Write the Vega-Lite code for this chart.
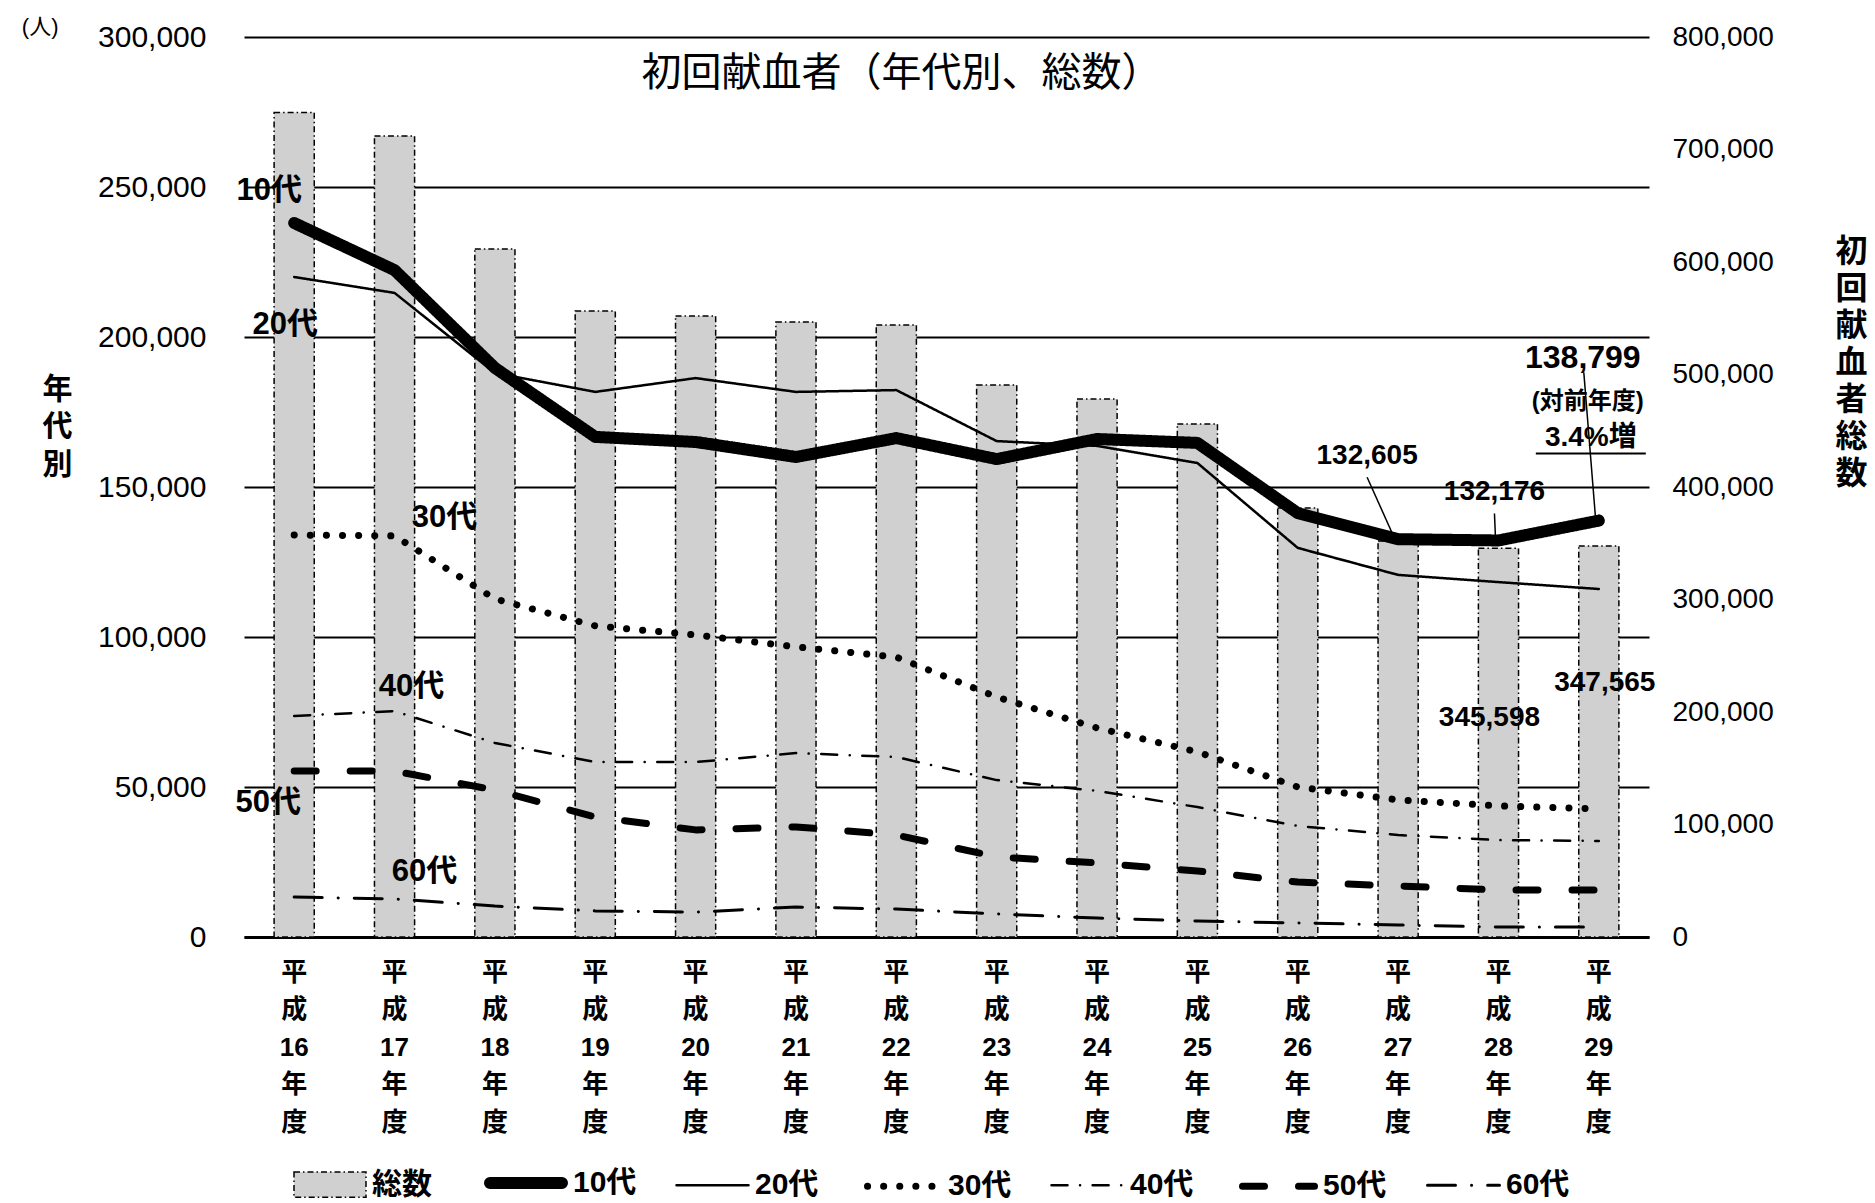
{
  "$schema": "https://vega.github.io/schema/vega-lite/v6.json",
  "width": 1405,
  "height": 900,
  "autosize": {"type": "none"},
  "padding": {"left": 244, "top": 37, "right": 226, "bottom": 266},
  "background": "white",
  "title": {
    "text": "初回献血者（年代別、総数）",
    "fontSize": 40,
    "fontWeight": "normal",
    "font": "Noto Sans CJK JP",
    "color": "black",
    "anchor": "middle",
    "frame": "group",
    "baseline": "middle",
    "offset": 0,
    "dx": -45,
    "dy": 98
  },
  "config": {
    "view": {"stroke": null},
    "font": "Liberation Sans, Noto Sans CJK JP",
    "text": {"color": "black"}
  },
  "datasets": {
    "totals": [
      {"year": "平成16年度", "total": 733000},
      {"year": "平成17年度", "total": 712000},
      {"year": "平成18年度", "total": 611600},
      {"year": "平成19年度", "total": 556400},
      {"year": "平成20年度", "total": 552000},
      {"year": "平成21年度", "total": 546700},
      {"year": "平成22年度", "total": 544000},
      {"year": "平成23年度", "total": 490700},
      {"year": "平成24年度", "total": 478200},
      {"year": "平成25年度", "total": 456000},
      {"year": "平成26年度", "total": 381300},
      {"year": "平成27年度", "total": 352000},
      {"year": "平成28年度", "total": 345598},
      {"year": "平成29年度", "total": 347565}
    ],
    "lines": [
      {"year": "平成16年度", "series": "10代", "value": 238000},
      {"year": "平成17年度", "series": "10代", "value": 222300},
      {"year": "平成18年度", "series": "10代", "value": 189700},
      {"year": "平成19年度", "series": "10代", "value": 166700},
      {"year": "平成20年度", "series": "10代", "value": 165000},
      {"year": "平成21年度", "series": "10代", "value": 160000},
      {"year": "平成22年度", "series": "10代", "value": 166300},
      {"year": "平成23年度", "series": "10代", "value": 159300},
      {"year": "平成24年度", "series": "10代", "value": 166000},
      {"year": "平成25年度", "series": "10代", "value": 164700},
      {"year": "平成26年度", "series": "10代", "value": 141300},
      {"year": "平成27年度", "series": "10代", "value": 132605},
      {"year": "平成28年度", "series": "10代", "value": 132176},
      {"year": "平成29年度", "series": "10代", "value": 138799},
      {"year": "平成16年度", "series": "20代", "value": 220000},
      {"year": "平成17年度", "series": "20代", "value": 214700},
      {"year": "平成18年度", "series": "20代", "value": 188000},
      {"year": "平成19年度", "series": "20代", "value": 181700},
      {"year": "平成20年度", "series": "20代", "value": 186300},
      {"year": "平成21年度", "series": "20代", "value": 181700},
      {"year": "平成22年度", "series": "20代", "value": 182300},
      {"year": "平成23年度", "series": "20代", "value": 165300},
      {"year": "平成24年度", "series": "20代", "value": 163700},
      {"year": "平成25年度", "series": "20代", "value": 158000},
      {"year": "平成26年度", "series": "20代", "value": 129700},
      {"year": "平成27年度", "series": "20代", "value": 120700},
      {"year": "平成28年度", "series": "20代", "value": 118300},
      {"year": "平成29年度", "series": "20代", "value": 116000},
      {"year": "平成16年度", "series": "30代", "value": 134000},
      {"year": "平成17年度", "series": "30代", "value": 133700},
      {"year": "平成18年度", "series": "30代", "value": 112700},
      {"year": "平成19年度", "series": "30代", "value": 103700},
      {"year": "平成20年度", "series": "30代", "value": 100700},
      {"year": "平成21年度", "series": "30代", "value": 96700},
      {"year": "平成22年度", "series": "30代", "value": 93300},
      {"year": "平成23年度", "series": "30代", "value": 80000},
      {"year": "平成24年度", "series": "30代", "value": 69700},
      {"year": "平成25年度", "series": "30代", "value": 61700},
      {"year": "平成26年度", "series": "30代", "value": 50000},
      {"year": "平成27年度", "series": "30代", "value": 45700},
      {"year": "平成28年度", "series": "30代", "value": 43700},
      {"year": "平成29年度", "series": "30代", "value": 42700},
      {"year": "平成16年度", "series": "40代", "value": 73700},
      {"year": "平成17年度", "series": "40代", "value": 75300},
      {"year": "平成18年度", "series": "40代", "value": 64700},
      {"year": "平成19年度", "series": "40代", "value": 58300},
      {"year": "平成20年度", "series": "40代", "value": 58300},
      {"year": "平成21年度", "series": "40代", "value": 61300},
      {"year": "平成22年度", "series": "40代", "value": 60000},
      {"year": "平成23年度", "series": "40代", "value": 52300},
      {"year": "平成24年度", "series": "40代", "value": 48700},
      {"year": "平成25年度", "series": "40代", "value": 43300},
      {"year": "平成26年度", "series": "40代", "value": 37000},
      {"year": "平成27年度", "series": "40代", "value": 34000},
      {"year": "平成28年度", "series": "40代", "value": 32300},
      {"year": "平成29年度", "series": "40代", "value": 32000},
      {"year": "平成16年度", "series": "50代", "value": 55300},
      {"year": "平成17年度", "series": "50代", "value": 55300},
      {"year": "平成18年度", "series": "50代", "value": 49000},
      {"year": "平成19年度", "series": "50代", "value": 40000},
      {"year": "平成20年度", "series": "50代", "value": 35700},
      {"year": "平成21年度", "series": "50代", "value": 36700},
      {"year": "平成22年度", "series": "50代", "value": 34000},
      {"year": "平成23年度", "series": "50代", "value": 26700},
      {"year": "平成24年度", "series": "50代", "value": 24700},
      {"year": "平成25年度", "series": "50代", "value": 22000},
      {"year": "平成26年度", "series": "50代", "value": 18300},
      {"year": "平成27年度", "series": "50代", "value": 17000},
      {"year": "平成28年度", "series": "50代", "value": 15700},
      {"year": "平成29年度", "series": "50代", "value": 15700},
      {"year": "平成16年度", "series": "60代", "value": 13300},
      {"year": "平成17年度", "series": "60代", "value": 12700},
      {"year": "平成18年度", "series": "60代", "value": 10300},
      {"year": "平成19年度", "series": "60代", "value": 8700},
      {"year": "平成20年度", "series": "60代", "value": 8300},
      {"year": "平成21年度", "series": "60代", "value": 10000},
      {"year": "平成22年度", "series": "60代", "value": 9300},
      {"year": "平成23年度", "series": "60代", "value": 7700},
      {"year": "平成24年度", "series": "60代", "value": 6300},
      {"year": "平成25年度", "series": "60代", "value": 5300},
      {"year": "平成26年度", "series": "60代", "value": 4700},
      {"year": "平成27年度", "series": "60代", "value": 4000},
      {"year": "平成28年度", "series": "60代", "value": 3300},
      {"year": "平成29年度", "series": "60代", "value": 3300}
    ]
  },
  "resolve": {"scale": {"y": "independent"}},
  "layer": [
    {
      "data": {"name": "totals"},
      "layer": [
        {
          "mark": {"type": "bar", "fill": "#d0d0d0", "stroke": "black", "strokeWidth": 1.5, "strokeDash": [6, 3, 1.5, 3]},
          "encoding": {
            "x": {
              "field": "year", "type": "nominal", "sort": null,
              "scale": {"paddingInner": 0.6, "paddingOuter": 0.3},
              "axis": {
                "title": null, "labelAngle": 0,
                "labelExpr": "['平','成', substring(datum.value, 2, 4), '年', '度']",
                "labelFontSize": 26, "labelFontWeight": "bold", "labelLineHeight": 37.6,
                "labelBaseline": "top", "labelPadding": 22, "labelColor": "black",
                "ticks": false, "domain": true, "domainColor": "black", "domainWidth": 3,
                "grid": false
              }
            },
            "y": {
              "field": "total", "type": "quantitative",
              "scale": {"domain": [0, 800000], "nice": false},
              "axis": {
                "orient": "right", "values": [0, 100000, 200000, 300000, 400000, 500000, 600000, 700000, 800000],
                "format": ",d", "grid": false, "domain": false, "ticks": false,
                "labelFontSize": 28, "labelColor": "black", "labelPadding": 23,
                "title": ["初", "回", "献", "血", "者", "総", "数"],
                "titleAngle": 0, "titleFontSize": 32, "titleFontWeight": "bold", "titleColor": "black",
                "titleLineHeight": 37, "titleBaseline": "middle", "titleAlign": "center",
                "titleX": 202, "titleY": 214
              }
            }
          }
        },
        {
          "transform": [{"filter": "datum.year === '平成28年度'"}],
          "mark": {"type": "text", "dx": -9, "dy": 170, "fontSize": 28, "fontWeight": "bold", "align": "center", "baseline": "middle"},
          "encoding": {
            "x": {"field": "year", "type": "nominal", "sort": null},
            "y": {"field": "total", "type": "quantitative"},
            "text": {"field": "total", "type": "quantitative", "format": ","}
          }
        },
        {
          "transform": [{"filter": "datum.year === '平成29年度'"}],
          "mark": {"type": "text", "dx": 6, "dy": 137, "fontSize": 28, "fontWeight": "bold", "align": "center", "baseline": "middle"},
          "encoding": {
            "x": {"field": "year", "type": "nominal", "sort": null},
            "y": {"field": "total", "type": "quantitative"},
            "text": {"field": "total", "type": "quantitative", "format": ","}
          }
        }
      ]
    },
    {
      "data": {"name": "lines"},
      "layer": [
        {
          "mark": {"type": "line", "color": "black", "strokeCap": "round", "strokeJoin": "round"},
          "encoding": {
            "x": {"field": "year", "type": "nominal", "sort": null},
            "y": {
              "field": "value", "type": "quantitative",
              "scale": {"domain": [0, 300000], "nice": false},
              "axis": {
                "orient": "left", "values": [0, 50000, 100000, 150000, 200000, 250000, 300000],
                "format": ",d", "grid": true, "gridColor": "black", "gridWidth": 2,
                "domain": false, "ticks": false,
                "labelFontSize": 30, "labelColor": "black", "labelPadding": 38,
                "title": ["年", "代", "別"],
                "titleAngle": 0, "titleFontSize": 30, "titleFontWeight": "bold", "titleColor": "black",
                "titleLineHeight": 37.5, "titleBaseline": "middle", "titleAlign": "center",
                "titleX": -187, "titleY": 352
              }
            },
            "strokeDash": {
              "field": "series", "type": "nominal",
              "scale": {
                "type": "ordinal",
                "domain": ["総数", "10代", "20代", "30代", "40代", "50代", "60代"],
                "range": [[6, 3, 1.5, 3], [1, 0], [1, 0], [0.1, 16], [16, 12.5, 0.1, 12.5], [22, 34], [28, 16, 0.1, 16]]
              },
              "legend": {
                "title": null, "orient": "none", "legendX": 49, "legendY": 1104, "direction": "horizontal",
                "symbolType": "stroke", "symbolSize": 5184, "symbolStrokeColor": "black",
                "labelFontSize": 30, "labelFontWeight": "bold", "labelColor": "black",
                "labelOffset": 5, "columnPadding": 34, "labelLimit": 300, "padding": 0,
                "encode": {
                  "symbols": {
                    "update": {
                      "shape": {"signal": "datum.value === '総数' ? 'M-1,-0.35H1V0.35H-1Z' : 'stroke'"},
                      "fill": {"signal": "datum.value === '総数' ? '#d0d0d0' : 'transparent'"},
                      "stroke": {"value": "black"},
                      "strokeCap": {"signal": "datum.value === '総数' ? 'butt' : 'round'"}
                    }
                  }
                }
              }
            },
            "strokeWidth": {
              "field": "series", "type": "nominal",
              "scale": {
                "type": "ordinal",
                "domain": ["総数", "10代", "20代", "30代", "40代", "50代", "60代"],
                "range": [1.5, 12, 2.5, 7, 2.5, 7, 3]
              },
              "legend": {
                "title": null, "orient": "none", "legendX": 49, "legendY": 1104, "direction": "horizontal",
                "symbolType": "stroke", "symbolSize": 5184, "symbolStrokeColor": "black",
                "labelFontSize": 30, "labelFontWeight": "bold", "labelColor": "black",
                "labelOffset": 5, "columnPadding": 34, "labelLimit": 300, "padding": 0,
                "encode": {
                  "symbols": {
                    "update": {
                      "shape": {"signal": "datum.value === '総数' ? 'M-1,-0.35H1V0.35H-1Z' : 'stroke'"},
                      "fill": {"signal": "datum.value === '総数' ? '#d0d0d0' : 'transparent'"},
                      "stroke": {"value": "black"},
                      "strokeCap": {"signal": "datum.value === '総数' ? 'butt' : 'round'"}
                    }
                  }
                }
              }
            }
          }
        },
        {
          "transform": [{"filter": "datum.series === '10代' && datum.year === '平成27年度'"}],
          "mark": {"type": "rule", "color": "black", "strokeWidth": 1.5, "xOffset": -5, "yOffset": -4, "x2Offset": -31, "y2Offset": -62},
          "encoding": {
            "x": {"field": "year", "type": "nominal", "sort": null},
            "x2": {"field": "year"},
            "y": {"field": "value", "type": "quantitative"},
            "y2": {"field": "value"}
          }
        },
        {
          "transform": [{"filter": "datum.series === '10代' && datum.year === '平成28年度'"}],
          "mark": {"type": "rule", "color": "black", "strokeWidth": 1.5, "xOffset": -3, "yOffset": -3, "x2Offset": -4, "y2Offset": -27},
          "encoding": {
            "x": {"field": "year", "type": "nominal", "sort": null},
            "x2": {"field": "year"},
            "y": {"field": "value", "type": "quantitative"},
            "y2": {"field": "value"}
          }
        },
        {
          "transform": [{"filter": "datum.series === '10代' && datum.year === '平成29年度'"}],
          "mark": {"type": "rule", "color": "black", "strokeWidth": 1.5, "xOffset": -3, "yOffset": 1, "x2Offset": -15, "y2Offset": -148},
          "encoding": {
            "x": {"field": "year", "type": "nominal", "sort": null},
            "x2": {"field": "year"},
            "y": {"field": "value", "type": "quantitative"},
            "y2": {"field": "value"}
          }
        },
        {
          "transform": [{"filter": "datum.series === '10代' && datum.year === '平成29年度'"}],
          "mark": {"type": "rule", "color": "black", "strokeWidth": 2, "xOffset": -63, "x2Offset": 47, "yOffset": -67},
          "encoding": {
            "x": {"field": "year", "type": "nominal", "sort": null},
            "x2": {"field": "year"},
            "y": {"field": "value", "type": "quantitative"}
          }
        },
        {
          "transform": [{"filter": "datum.series === '10代' && datum.year === '平成27年度'"}],
          "mark": {"type": "text", "dx": -31, "dy": -83, "fontSize": 28, "fontWeight": "bold", "align": "center", "baseline": "middle"},
          "encoding": {
            "x": {"field": "year", "type": "nominal", "sort": null},
            "y": {"field": "value", "type": "quantitative"},
            "text": {"field": "value", "type": "quantitative", "format": ","}
          }
        },
        {
          "transform": [{"filter": "datum.series === '10代' && datum.year === '平成28年度'"}],
          "mark": {"type": "text", "dx": -4, "dy": -48, "fontSize": 28, "fontWeight": "bold", "align": "center", "baseline": "middle"},
          "encoding": {
            "x": {"field": "year", "type": "nominal", "sort": null},
            "y": {"field": "value", "type": "quantitative"},
            "text": {"field": "value", "type": "quantitative", "format": ","}
          }
        },
        {
          "transform": [{"filter": "datum.series === '10代' && datum.year === '平成29年度'"}],
          "mark": {"type": "text", "dx": -16, "dy": -163, "fontSize": 32, "fontWeight": "bold", "align": "center", "baseline": "middle"},
          "encoding": {
            "x": {"field": "year", "type": "nominal", "sort": null},
            "y": {"field": "value", "type": "quantitative"},
            "text": {"field": "value", "type": "quantitative", "format": ","}
          }
        },
        {
          "transform": [{"filter": "datum.series === '10代' && datum.year === '平成29年度'"}],
          "mark": {"type": "text", "text": "(対前年度)", "dx": -11, "dy": -119, "fontSize": 24, "fontWeight": "bold", "align": "center", "baseline": "middle"},
          "encoding": {
            "x": {"field": "year", "type": "nominal", "sort": null},
            "y": {"field": "value", "type": "quantitative"}
          }
        },
        {
          "transform": [{"filter": "datum.series === '10代' && datum.year === '平成29年度'"}],
          "mark": {"type": "text", "text": "3.4%増", "dx": -8, "dy": -83, "fontSize": 28, "fontWeight": "bold", "align": "center", "baseline": "middle"},
          "encoding": {
            "x": {"field": "year", "type": "nominal", "sort": null},
            "y": {"field": "value", "type": "quantitative"}
          }
        },
        {
          "transform": [{"filter": "datum.series === '10代' && datum.year === '平成16年度'"}],
          "mark": {"type": "text", "text": "(人)", "dx": -254, "dy": -10, "fontSize": 22, "fontWeight": "normal", "align": "center", "baseline": "middle"},
          "encoding": {
            "x": {"field": "year", "type": "nominal", "sort": null},
            "y": {"datum": 300000, "type": "quantitative"}
          }
        },
        {
          "transform": [{"filter": "datum.series === '10代' && datum.year === '平成16年度'"}],
          "mark": {"type": "text", "dx": -25, "dy": -32, "fontSize": 31, "fontWeight": "bold", "align": "center", "baseline": "middle"},
          "encoding": {
            "x": {"field": "year", "type": "nominal", "sort": null},
            "y": {"field": "value", "type": "quantitative"},
            "text": {"field": "series"}
          }
        },
        {
          "transform": [{"filter": "datum.series === '20代' && datum.year === '平成16年度'"}],
          "mark": {"type": "text", "dx": -9, "dy": 48, "fontSize": 31, "fontWeight": "bold", "align": "center", "baseline": "middle"},
          "encoding": {
            "x": {"field": "year", "type": "nominal", "sort": null},
            "y": {"field": "value", "type": "quantitative"},
            "text": {"field": "series"}
          }
        },
        {
          "transform": [{"filter": "datum.series === '30代' && datum.year === '平成17年度'"}],
          "mark": {"type": "text", "dx": 50, "dy": -18, "fontSize": 31, "fontWeight": "bold", "align": "center", "baseline": "middle"},
          "encoding": {
            "x": {"field": "year", "type": "nominal", "sort": null},
            "y": {"field": "value", "type": "quantitative"},
            "text": {"field": "series"}
          }
        },
        {
          "transform": [{"filter": "datum.series === '40代' && datum.year === '平成17年度'"}],
          "mark": {"type": "text", "dx": 17, "dy": -24, "fontSize": 31, "fontWeight": "bold", "align": "center", "baseline": "middle"},
          "encoding": {
            "x": {"field": "year", "type": "nominal", "sort": null},
            "y": {"field": "value", "type": "quantitative"},
            "text": {"field": "series"}
          }
        },
        {
          "transform": [{"filter": "datum.series === '50代' && datum.year === '平成16年度'"}],
          "mark": {"type": "text", "dx": -26, "dy": 32, "fontSize": 31, "fontWeight": "bold", "align": "center", "baseline": "middle"},
          "encoding": {
            "x": {"field": "year", "type": "nominal", "sort": null},
            "y": {"field": "value", "type": "quantitative"},
            "text": {"field": "series"}
          }
        },
        {
          "transform": [{"filter": "datum.series === '60代' && datum.year === '平成17年度'"}],
          "mark": {"type": "text", "dx": 30, "dy": -27, "fontSize": 31, "fontWeight": "bold", "align": "center", "baseline": "middle"},
          "encoding": {
            "x": {"field": "year", "type": "nominal", "sort": null},
            "y": {"field": "value", "type": "quantitative"},
            "text": {"field": "series"}
          }
        }
      ]
    }
  ]
}
